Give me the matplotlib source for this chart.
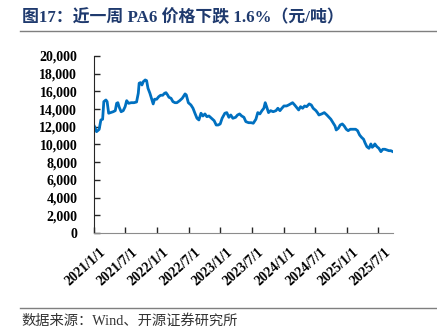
import pandas as pd
import matplotlib
matplotlib.use("Agg")
import matplotlib.pyplot as plt
from matplotlib.lines import Line2D
from matplotlib.ticker import FuncFormatter
from matplotlib.transforms import ScaledTranslation

# PA6 价格（元/吨）
dates = [
    "2021-01-01", "2021-01-05", "2021-01-16", "2021-01-31", "2021-02-10", "2021-02-20",
    "2021-02-27", "2021-03-11", "2021-03-18", "2021-03-27", "2021-04-07", "2021-04-22",
    "2021-05-04", "2021-05-12", "2021-05-19", "2021-05-27", "2021-06-07", "2021-06-19",
    "2021-06-30", "2021-07-09", "2021-07-20", "2021-08-04", "2021-08-20", "2021-09-04",
    "2021-09-14", "2021-09-19", "2021-09-27", "2021-10-05", "2021-10-13", "2021-10-24",
    "2021-11-01", "2021-11-09", "2021-11-20", "2021-12-02", "2021-12-09", "2021-12-17",
    "2021-12-29", "2022-01-10", "2022-01-21", "2022-02-02", "2022-02-13", "2022-02-21",
    "2022-03-02", "2022-03-10", "2022-03-22", "2022-04-02", "2022-04-14", "2022-04-25",
    "2022-05-11", "2022-05-26", "2022-06-11", "2022-06-18", "2022-06-30", "2022-07-15",
    "2022-07-27", "2022-08-07", "2022-08-19", "2022-08-30", "2022-09-11", "2022-09-22",
    "2022-10-04", "2022-10-15", "2022-10-27", "2022-11-11", "2022-11-26", "2022-12-08",
    "2022-12-19", "2022-12-31", "2023-01-11", "2023-01-27", "2023-02-07", "2023-02-19",
    "2023-03-02", "2023-03-14", "2023-03-30", "2023-04-10", "2023-04-22", "2023-05-04",
    "2023-05-17", "2023-05-28", "2023-06-13", "2023-06-28", "2023-07-10", "2023-07-25",
    "2023-08-05", "2023-08-17", "2023-08-29", "2023-09-09", "2023-09-17", "2023-09-25",
    "2023-10-06", "2023-10-18", "2023-11-02", "2023-11-18", "2023-11-29", "2023-12-11",
    "2023-12-22", "2024-01-03", "2024-01-18", "2024-01-30", "2024-02-10", "2024-02-22",
    "2024-03-05", "2024-03-16", "2024-03-28", "2024-04-08", "2024-04-20", "2024-05-01",
    "2024-05-13", "2024-05-28", "2024-06-09", "2024-06-20", "2024-07-06", "2024-07-17",
    "2024-07-23", "2024-08-08", "2024-08-23", "2024-09-07", "2024-09-19", "2024-09-30",
    "2024-10-12", "2024-10-24", "2024-10-31", "2024-11-12", "2024-11-23", "2024-12-05",
    "2024-12-16", "2024-12-28", "2025-01-08", "2025-01-20", "2025-02-04", "2025-02-20",
    "2025-03-03", "2025-03-15", "2025-03-26", "2025-04-07", "2025-04-15", "2025-04-26",
    "2025-05-08", "2025-05-19", "2025-05-27", "2025-06-04", "2025-06-11", "2025-06-23",
    "2025-07-04", "2025-07-16", "2025-07-27", "2025-08-08", "2025-08-19", "2025-08-31",
    "2025-09-11", "2025-09-23",
]
prices = [
    12150, 12000, 11450, 11700, 12770, 12850,
    14840, 15030, 14840, 13530, 13600, 13700,
    13820, 14650, 14720, 14200, 13700, 13820,
    14270, 14950, 14650, 14720, 14720, 14800,
    15790, 16920, 16990, 16720, 17100, 17290,
    17210, 16350, 15790, 15030, 14580, 15110,
    15110, 15400, 15560, 15560, 15790, 15850,
    15600, 15330, 15220, 14840, 14720, 14720,
    14950, 15220, 15710, 15600, 14720, 14460,
    14090, 13530, 12960, 12770, 13530, 13220,
    13450, 13140, 13220, 12960, 12690, 12200,
    12200, 12320, 12960, 13530, 13600, 13070,
    13330, 12960, 13070, 13330, 13450, 13220,
    13070, 12580, 12460, 12460, 12400, 12850,
    13600, 13450, 13820, 14090, 14720, 14270,
    13600, 13820, 13700, 13820, 14090, 13820,
    14090, 14350, 14350, 14460, 14580, 14720,
    14460, 14200, 13900, 14270, 14090, 14350,
    14270, 14580, 14460, 14090, 13820, 13530,
    13330, 13450, 13600, 13330, 13070, 12850,
    12460, 12090, 11640, 11830, 12200, 12320,
    12090, 11720, 11560, 11720, 11720, 11720,
    11560, 11070, 10810, 10590, 10200, 9750,
    9570, 10060, 9680, 9830, 10060, 9750,
    9570, 9190, 9460, 9460, 9380, 9300,
    9300, 9190,
]
tick_dates = ["2021-01-01", "2021-07-01", "2022-01-01", "2022-07-01", "2023-01-01",
              "2023-07-01", "2024-01-01", "2024-07-01", "2025-01-01", "2025-07-01"]
tick_labels = ["2021/1/1", "2021/7/1", "2022/1/1", "2022/7/1", "2023/1/1",
               "2023/7/1", "2024/1/1", "2024/7/1", "2025/1/1", "2025/7/1"]

title = "图17：近一周 PA6 价格下跌 1.6%（元/吨）"
source = "数据来源：Wind、开源证券研究所"

serif_cjk = ["Liberation Serif", "Noto Sans CJK SC"]

x = pd.to_datetime(dates)

fig = plt.figure(figsize=(4.37, 3.36), dpi=100)
ax = fig.add_axes([0.215, 0.3065, 0.684, 0.527])

ax.plot(x, prices, color="#0070C0", lw=2.0)

ax.set_ylim(0, 20000)
ax.set_yticks(range(0, 20001, 2000))
ax.yaxis.set_major_formatter(FuncFormatter(lambda v, p: f"{int(v):,}"))
ax.set_xlim(pd.Timestamp("2021-01-01"), x[-1])
ax.set_xticks(pd.to_datetime(tick_dates))
ax.set_xticklabels(tick_labels)

for s in ["top", "right"]:
    ax.spines[s].set_visible(False)
ax.spines["left"].set_color("#262626")
ax.spines["bottom"].set_color("#8c8c8c")
ax.tick_params(axis="both", direction="in", length=4, width=1, color="#262626")
ax.tick_params(axis="y", pad=12)
ax.tick_params(axis="x", pad=9)

for lab in ax.get_yticklabels():
    lab.set_fontfamily("Liberation Serif")
    lab.set_fontweight("bold")
    lab.set_fontsize(10)
# 日期标签往右挪一点
shift = ScaledTranslation(4 / 72, 0, fig.dpi_scale_trans)
for lab in ax.get_xticklabels():
    lab.set_fontfamily("Liberation Serif")
    lab.set_fontweight("bold")
    lab.set_fontsize(10)
    lab.set_rotation(42)
    lab.set_ha("right")
    lab.set_rotation_mode("anchor")
    lab.set_transform(lab.get_transform() + shift)

# 标题与来源
fig.text(0.05, 0.947, title, family=serif_cjk, fontweight="bold",
         fontsize=12.2, color="#1F3A6E", va="center", ha="left")
fig.add_artist(Line2D([0.046, 1.0], [0.907, 0.907], transform=fig.transFigure,
                      color="#7f7f7f", lw=1))
fig.add_artist(Line2D([0.046, 1.0], [0.083, 0.083], transform=fig.transFigure,
                      color="#7f7f7f", lw=1))
fig.text(0.05, 0.045, source, family=serif_cjk, fontsize=10.3,
         color="#333333", va="center", ha="left")

fig.savefig("out.png", dpi=100)
